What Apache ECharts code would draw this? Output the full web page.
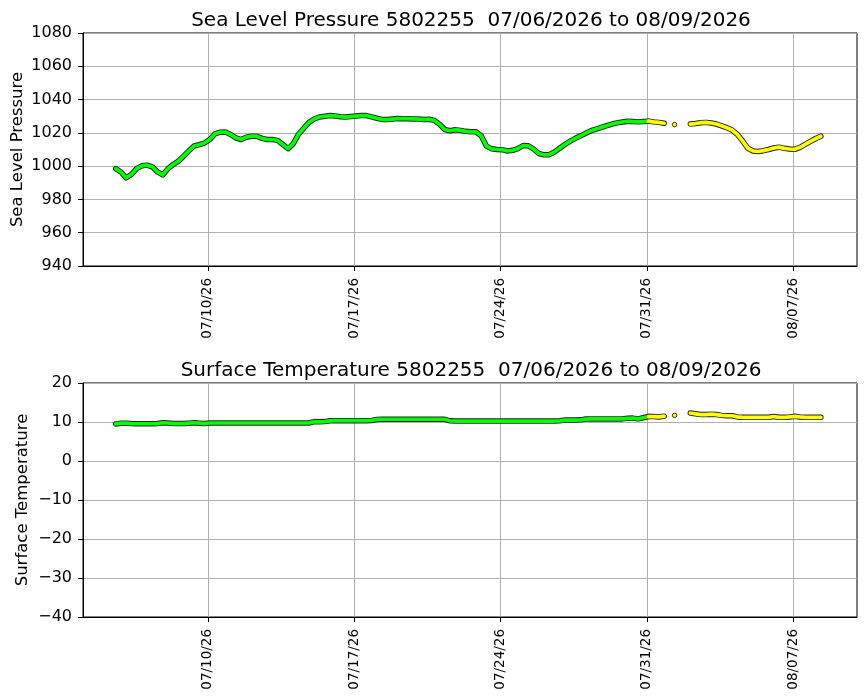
<!DOCTYPE html>
<html>
<head>
<meta charset="utf-8">
<script src="https://cdn.jsdelivr.net/npm/echarts@6/dist/echarts.min.js"></script>
<style>
  html, body { margin: 0; padding: 0; background: #fff; }
  #chart { width: 867px; height: 700px; }
</style>
</head>
<body>
<div id="chart"></div>
<script>
// 6-hourly samples, first one 2026-07-05 14:00 UTC
const startTime = Date.UTC(2026, 6, 5, 14, 0);
const stepHours = 6;

const pressure = [
  998.5, 996.5, 993, 995, 998.5, 1000.2, 1000.6, 999.6, 996.5, 994.7,
  998.5, 1001, 1003, 1006, 1009.2, 1012.1, 1012.9, 1013.9, 1016, 1019.4,
  1020.4, 1020.5, 1019, 1017, 1016, 1017.4, 1018, 1018, 1016.7, 1016,
  1016, 1015.5, 1013, 1010.5, 1013.5, 1019.2, 1022.8, 1026.3, 1028.3, 1029.5,
  1030, 1030.4, 1030.2, 1029.7, 1029.5, 1029.8, 1030.1, 1030.4, 1030.4, 1029.6,
  1028.8, 1028.1, 1028, 1028.3, 1028.6, 1028.5, 1028.5, 1028.4, 1028.3, 1028,
  1028.2, 1027.5, 1025.2, 1022, 1021.3, 1021.9, 1021.5, 1020.9, 1020.6, 1020.6,
  1018.1, 1012, 1010.4, 1010, 1009.9, 1009.1, 1009.5, 1010.5, 1012.4, 1012.2,
  1010.3, 1007.6, 1006.8, 1006.9, 1008.5, 1010.7, 1013, 1015, 1016.7, 1018.2,
  1019.8, 1021.3, 1022.3, 1023.3, 1024.3, 1025.3, 1026, 1026.5, 1027, 1026.8,
  1026.6, 1026.8, 1027, 1026.6, 1026.3, 1025.8, null, 1025, null, null,
  1025.3, 1025.6, 1026.1, 1026.3, 1025.9, 1025.3, 1024.2, 1023.1, 1021.7, 1019.1,
  1015.2, 1010.8, 1009.1, 1008.8, 1009.3, 1010, 1010.9, 1011.4, 1010.7, 1010.3,
  1010.1, 1011.3, 1013.1, 1014.9, 1016.6, 1018
];

const temperature = [
  9.5, 9.7, 9.7, 9.6, 9.55, 9.55, 9.55, 9.55, 9.6, 9.8,
  9.75, 9.6, 9.6, 9.6, 9.7, 9.8, 9.7, 9.6, 9.75, 9.75,
  9.75, 9.75, 9.75, 9.75, 9.75, 9.75, 9.75, 9.75, 9.75, 9.75,
  9.75, 9.75, 9.75, 9.75, 9.75, 9.75, 9.75, 9.75, 10.1, 10.05,
  10.1, 10.3, 10.35, 10.35, 10.35, 10.35, 10.35, 10.35, 10.35, 10.4,
  10.65, 10.7, 10.7, 10.7, 10.7, 10.7, 10.7, 10.7, 10.7, 10.7,
  10.7, 10.7, 10.7, 10.7, 10.3, 10.25, 10.25, 10.25, 10.25, 10.25,
  10.25, 10.25, 10.25, 10.25, 10.25, 10.25, 10.25, 10.25, 10.25, 10.25,
  10.25, 10.25, 10.25, 10.25, 10.25, 10.3, 10.5, 10.5, 10.5, 10.55,
  10.75, 10.8, 10.8, 10.8, 10.8, 10.8, 10.8, 10.8, 10.95, 11.0,
  10.8, 11.1, 11.4, 11.4, 11.3, 11.5, null, 11.7, null, null,
  12.3, 12.1, 11.9, 11.9, 12.0, 11.9, 11.7, 11.6, 11.6, 11.3,
  11.2, 11.2, 11.2, 11.2, 11.2, 11.2, 11.4, 11.2, 11.2, 11.3,
  11.45, 11.3, 11.2, 11.2, 11.2, 11.2
];

// samples up to this index are QC'd (green), from here on provisional (yellow)
const qcSplit = 102;

const tickDates = ['2026-07-10', '2026-07-17', '2026-07-24', '2026-07-31', '2026-08-07'];
const xMin = Date.UTC(2026, 6, 4, 0, 25);
const xMax = Date.UTC(2026, 7, 10, 1, 30);

const FONT = 'DejaVu Sans';
const tickValues = tickDates.map(d => Date.parse(d + 'T00:00:00Z'));

function timeOf(i) { return startTime + i * stepHours * 3600 * 1000; }

function part(arr, from, to) {
  return arr.map((v, i) => [timeOf(i), (i >= from && i <= to) ? v : null]);
}

function isolated(arr, i) {
  return arr[i] != null && arr[i - 1] == null && arr[i + 1] == null;
}

function fmtDate(val) {
  const d = new Date(val);
  const mm = String(d.getUTCMonth() + 1).padStart(2, '0');
  const dd = String(d.getUTCDate()).padStart(2, '0');
  const yy = String(d.getUTCFullYear()).slice(2);
  return mm + '/' + dd + '/' + yy;
}

function bandSeries(arr, gridIdx) {
  const green = part(arr, 0, qcSplit);
  const yellow = part(arr, qcSplit, arr.length - 1);
  const base = {
    type: 'line', xAxisIndex: gridIdx, yAxisIndex: gridIdx,
    connectNulls: false, silent: true, animation: false,
    showAllSymbol: true, symbol: 'circle'
  };
  const mk = (data, color, width, withDots) => Object.assign({}, base, {
    data: data,
    lineStyle: { color: color, width: width, cap: 'round', join: 'round' },
    itemStyle: { color: color, borderColor: '#000', borderWidth: 0.8 },
    symbolSize: (v, p) => (withDots && isolated(arr, p.dataIndex)) ? 4.5 : 0
  });
  return [
    mk(green, '#222', 5.5, false),
    mk(yellow, '#222', 5.5, false),
    mk(green, '#00ff00', 3.7, false),
    mk(yellow, '#ffff00', 3.7, true)
  ];
}

function xAxisFor(gridIdx) {
  return {
    type: 'value', gridIndex: gridIdx, min: xMin, max: xMax,
    axisLine: { onZero: false, lineStyle: { color: '#000', width: 1 } },
    axisTick: { show: true, length: 5, customValues: tickValues, lineStyle: { color: '#000' } },
    axisLabel: {
      customValues: tickValues, rotate: 90, margin: 12,
      fontFamily: FONT, fontSize: 13.5, color: '#000',
      formatter: v => fmtDate(v)
    },
    splitLine: { show: true, lineStyle: { color: '#b0b0b0', width: 1 } }
  };
}

function yAxisFor(gridIdx, min, max, interval, name, gap) {
  return {
    type: 'value', gridIndex: gridIdx, min: min, max: max, interval: interval,
    name: name, nameLocation: 'middle', nameGap: gap, nameMoveOverlap: false,
    nameTextStyle: { fontFamily: FONT, fontSize: 16.5, color: '#000' },
    axisLine: { show: true, lineStyle: { color: '#000', width: 1 } },
    axisTick: { show: true, length: 5, lineStyle: { color: '#000' } },
    axisLabel: {
      margin: 11, fontFamily: FONT, fontSize: 16, color: '#000',
      formatter: v => String(v).replace('-', '\u2212')
    },
    splitLine: { show: true, lineStyle: { color: '#b0b0b0', width: 1 } }
  };
}

const chart = echarts.init(document.getElementById('chart'), null, { renderer: 'canvas' });
chart.setOption({
  animation: false,
  backgroundColor: '#fff',
  title: [
    {
      text: 'Sea Level Pressure 5802255  07/06/2026 to 08/09/2026',
      left: 466, top: 6, textAlign: 'center',
      textStyle: { fontFamily: FONT, fontSize: 20, fontWeight: 'normal', color: '#000' }
    },
    {
      text: 'Surface Temperature 5802255  07/06/2026 to 08/09/2026',
      left: 466, top: 356, textAlign: 'center',
      textStyle: { fontFamily: FONT, fontSize: 20, fontWeight: 'normal', color: '#000' }
    }
  ],
  grid: [
    { left: 83, top: 33, width: 774, height: 233, show: true, borderColor: '#000', borderWidth: 1,
      backgroundColor: 'transparent', outerBoundsMode: 'none', containLabel: false },
    { left: 83, top: 383, width: 774, height: 234, show: true, borderColor: '#000', borderWidth: 1,
      backgroundColor: 'transparent', outerBoundsMode: 'none', containLabel: false }
  ],
  xAxis: [xAxisFor(0), xAxisFor(1)],
  yAxis: [
    yAxisFor(0, 940, 1080, 20, 'Sea Level Pressure', 57),
    yAxisFor(1, -40, 20, 10, 'Surface Temperature', 52)
  ],
  series: bandSeries(pressure, 0).concat(bandSeries(temperature, 1))
});
</script>
</body>
</html>
